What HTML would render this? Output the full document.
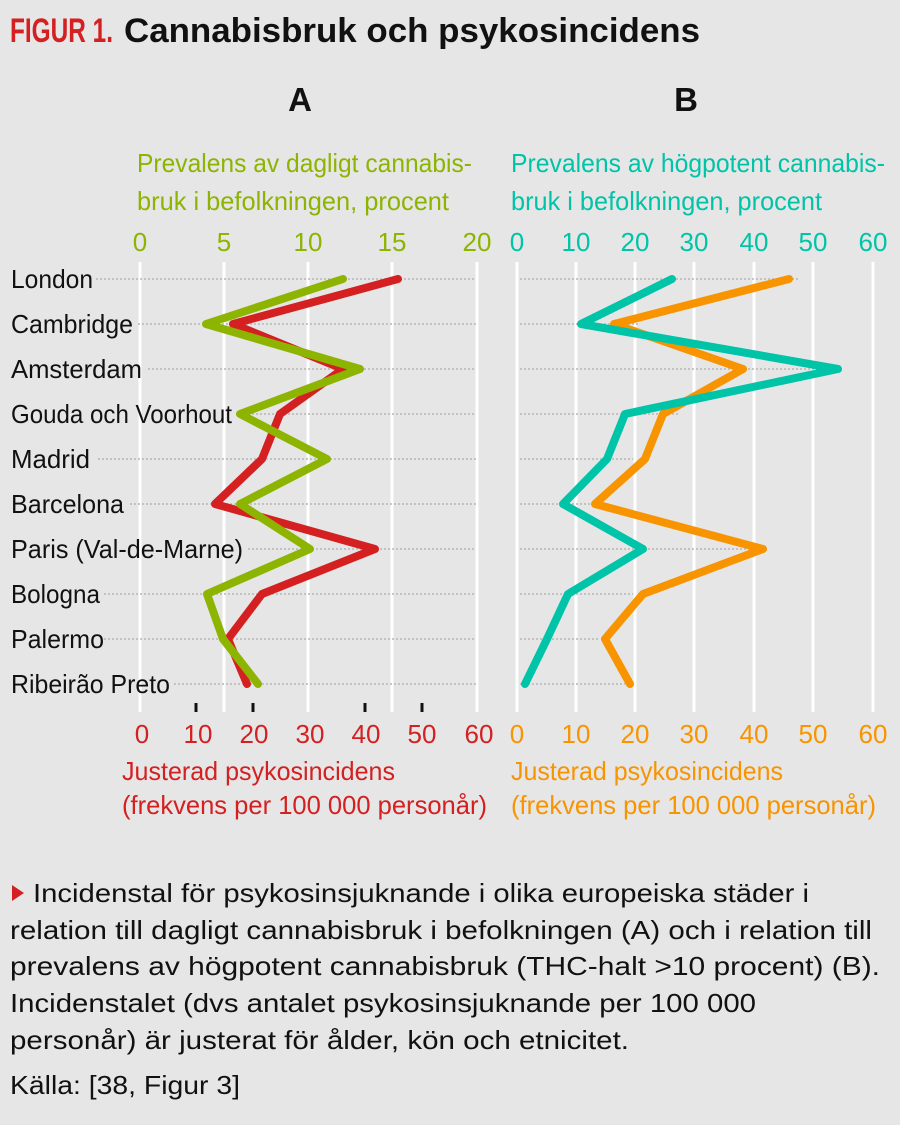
<!DOCTYPE html>
<html><head><meta charset="utf-8"><style>
html,body{margin:0;padding:0;background:#e6e6e7;}
svg{display:block;}
.c{font-family:"Liberation Sans",sans-serif;}
</style></head><body>
<svg width="900" height="1125" viewBox="0 0 900 1125" xmlns="http://www.w3.org/2000/svg" class="c">
<rect width="900" height="1125" fill="#e6e6e7"/>
<text x="10" y="42" font-size="34" font-weight="bold" fill="#d42020" textLength="103" lengthAdjust="spacingAndGlyphs">FIGUR 1.</text>
<text x="124" y="42" font-size="34" font-weight="bold" fill="#111" textLength="576" lengthAdjust="spacingAndGlyphs">Cannabisbruk och psykosincidens</text>
<text x="300" y="111" font-size="33" font-weight="bold" fill="#111" text-anchor="middle">A</text>
<text x="686" y="111" font-size="33" font-weight="bold" fill="#111" text-anchor="middle">B</text>
<g font-size="26" fill="#8db400">
<text x="137" y="172" textLength="335" lengthAdjust="spacingAndGlyphs">Prevalens av dagligt cannabis-</text>
<text x="137" y="210" textLength="312" lengthAdjust="spacingAndGlyphs">bruk i befolkningen, procent</text>
</g>
<g font-size="26" fill="#00c4a7">
<text x="511" y="172" textLength="374" lengthAdjust="spacingAndGlyphs">Prevalens av högpotent cannabis-</text>
<text x="511" y="210" textLength="311" lengthAdjust="spacingAndGlyphs">bruk i befolkningen, procent</text>
</g>
<g font-size="26" fill="#d42020">
<text x="122" y="780" textLength="273" lengthAdjust="spacingAndGlyphs">Justerad psykosincidens</text>
<text x="122" y="814" textLength="365" lengthAdjust="spacingAndGlyphs">(frekvens per 100 000 personår)</text>
</g>
<g font-size="26" fill="#f79400">
<text x="511" y="780" textLength="272" lengthAdjust="spacingAndGlyphs">Justerad psykosincidens</text>
<text x="511" y="814" textLength="365" lengthAdjust="spacingAndGlyphs">(frekvens per 100 000 personår)</text>
</g>
<g stroke="#fff" stroke-width="3">
<line x1="140" y1="262" x2="140" y2="712"/><line x1="224" y1="262" x2="224" y2="712"/><line x1="308" y1="262" x2="308" y2="712"/><line x1="392" y1="262" x2="392" y2="712"/><line x1="477" y1="262" x2="477" y2="712"/>
<line x1="517" y1="262" x2="517" y2="712"/><line x1="576" y1="262" x2="576" y2="712"/><line x1="635" y1="262" x2="635" y2="712"/><line x1="694" y1="262" x2="694" y2="712"/><line x1="754" y1="262" x2="754" y2="712"/><line x1="813" y1="262" x2="813" y2="712"/><line x1="873" y1="262" x2="873" y2="712"/>
</g>
<g stroke="#b5b5b5" stroke-width="1.5" stroke-dasharray="2,2">
<line x1="96" y1="279" x2="476" y2="279"/><line x1="138" y1="324" x2="476" y2="324"/><line x1="148" y1="369" x2="476" y2="369"/><line x1="236" y1="414" x2="476" y2="414"/><line x1="98" y1="459" x2="476" y2="459"/><line x1="130" y1="504" x2="476" y2="504"/><line x1="248" y1="549" x2="476" y2="549"/><line x1="104" y1="594" x2="476" y2="594"/><line x1="104" y1="639" x2="476" y2="639"/><line x1="174" y1="684" x2="476" y2="684"/>
<line x1="520" y1="279" x2="800" y2="279"/><line x1="520" y1="324" x2="640" y2="324"/><line x1="520" y1="369" x2="830" y2="369"/><line x1="520" y1="414" x2="680" y2="414"/><line x1="520" y1="459" x2="633" y2="459"/><line x1="520" y1="504" x2="600" y2="504"/><line x1="520" y1="549" x2="760" y2="549"/><line x1="520" y1="594" x2="633" y2="594"/><line x1="520" y1="639" x2="600" y2="639"/><line x1="520" y1="684" x2="625" y2="684"/>
</g>
<g stroke="#111" stroke-width="3">
<line x1="196" y1="703" x2="196" y2="712"/><line x1="253" y1="703" x2="253" y2="712"/><line x1="365" y1="703" x2="365" y2="712"/><line x1="422" y1="703" x2="422" y2="712"/>
</g>
<g font-size="26" fill="#111">
<text x="11" y="288" textLength="82" lengthAdjust="spacingAndGlyphs">London</text>
<text x="11" y="333" textLength="122" lengthAdjust="spacingAndGlyphs">Cambridge</text>
<text x="11" y="378" textLength="131" lengthAdjust="spacingAndGlyphs">Amsterdam</text>
<text x="11" y="423" textLength="221" lengthAdjust="spacingAndGlyphs">Gouda och Voorhout</text>
<text x="11" y="468" textLength="79" lengthAdjust="spacingAndGlyphs">Madrid</text>
<text x="11" y="513" textLength="113" lengthAdjust="spacingAndGlyphs">Barcelona</text>
<text x="11" y="558" textLength="232" lengthAdjust="spacingAndGlyphs">Paris (Val-de-Marne)</text>
<text x="11" y="603" textLength="89" lengthAdjust="spacingAndGlyphs">Bologna</text>
<text x="11" y="648" textLength="93" lengthAdjust="spacingAndGlyphs">Palermo</text>
<text x="11" y="693" textLength="159" lengthAdjust="spacingAndGlyphs">Ribeirão Preto</text>
</g>
<g font-size="26" text-anchor="middle">
<g fill="#8db400"><text x="140" y="251">0</text><text x="224" y="251">5</text><text x="308" y="251">10</text><text x="392" y="251">15</text><text x="477" y="251">20</text></g>
<g fill="#00c4a7"><text x="517" y="251">0</text><text x="576" y="251">10</text><text x="635" y="251">20</text><text x="694" y="251">30</text><text x="754" y="251">40</text><text x="813" y="251">50</text><text x="873" y="251">60</text></g>
<g fill="#d42020"><text x="142" y="743">0</text><text x="198" y="743">10</text><text x="254" y="743">20</text><text x="310" y="743">30</text><text x="366" y="743">40</text><text x="422" y="743">50</text><text x="479" y="743">60</text></g>
<g fill="#f79400"><text x="517" y="743">0</text><text x="576" y="743">10</text><text x="635" y="743">20</text><text x="694" y="743">30</text><text x="754" y="743">40</text><text x="813" y="743">50</text><text x="873" y="743">60</text></g>
</g>
<g fill="none" stroke-width="8" stroke-linecap="round" stroke-linejoin="round">
<polyline stroke="#d42020" points="398,279 233,324 343,369 280,414 262,459 215,504 375,549 262,594 228,639 247,684"/>
<polyline stroke="#8db400" points="343,279 206,324 360,369 240,414 327,459 240,504 310,549 207,594 223,639 258,684"/>
<polyline stroke="#f79400" points="789,279 614,324 743,369 663,414 645,459 595,504 763,549 643,594 605,639 630,684"/>
<polyline stroke="#00c4a7" points="672,279 581,324 838,369 625,414 607,459 563,504 643,549 568,594 547,639 525,684"/>
</g>
<polygon points="12,885 12,901 24,893" fill="#d42020"/>
<g font-size="26" fill="#111">
<text x="33" y="902" textLength="776" lengthAdjust="spacingAndGlyphs">Incidenstal för psykosinsjuknande i olika europeiska städer i</text>
<text x="10" y="939" textLength="862" lengthAdjust="spacingAndGlyphs">relation till dagligt cannabisbruk i befolkningen (A) och i relation till</text>
<text x="10" y="975" textLength="870" lengthAdjust="spacingAndGlyphs">prevalens av högpotent cannabisbruk (THC-halt &gt;10 procent) (B).</text>
<text x="10" y="1012" textLength="746" lengthAdjust="spacingAndGlyphs">Incidenstalet (dvs antalet psykosinsjuknande per 100 000</text>
<text x="10" y="1049" textLength="619" lengthAdjust="spacingAndGlyphs">personår) är justerat för ålder, kön och etnicitet.</text>
<text x="10" y="1094" textLength="230" lengthAdjust="spacingAndGlyphs">Källa: [38, Figur 3]</text>
</g>
</svg>
</body></html>
